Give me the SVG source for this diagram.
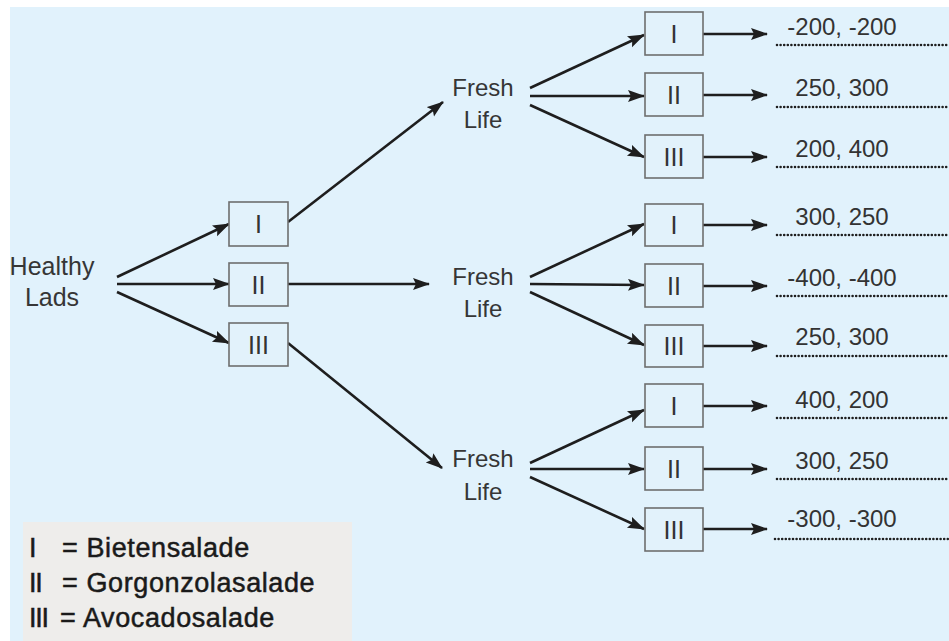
<svg xmlns="http://www.w3.org/2000/svg" width="949" height="641" viewBox="0 0 949 641">
<style>
  .t { font-family: "Liberation Sans", Arial, sans-serif; font-size: 24px; fill: #363636; }
  .big { font-size: 25px; }
  .num { font-family: "Liberation Sans", Arial, sans-serif; font-size: 24px; fill: #333; text-anchor: middle; }
  .box { fill: #e2f2fb; stroke: #6e6e6e; stroke-width: 1.6; }
  .lbl { font-family: "Liberation Sans", Arial, sans-serif; font-size: 25px; fill: #333; text-anchor: middle; }
  .edge { stroke: #1e1e1e; stroke-width: 2.6; fill: none; marker-end: url(#ah); }
  .dot { stroke: #1e1e1e; stroke-width: 2.6; stroke-linecap: round; stroke-dasharray: 0 3.6; fill: none; }
  .leg { font-family: "Liberation Sans", Arial, sans-serif; font-size: 27px; fill: #1a1a1a; stroke: #1a1a1a; stroke-width: 0.5px; letter-spacing: 0.6px; }
  .roman { letter-spacing: -1.2px; }
</style>
<defs>
  <marker id="ah" markerUnits="userSpaceOnUse" markerWidth="18" markerHeight="14" refX="16" refY="6" orient="auto">
    <path d="M0,0 L17,6 L0,12 L3,6 z" fill="#1e1e1e"/>
  </marker>
</defs>
<rect x="0" y="0" width="949" height="641" fill="#ffffff"/>
<rect x="10" y="7" width="939" height="634" fill="#e1f2fc"/>
<rect x="23" y="522" width="329" height="119" fill="#eeedeb"/>

<g id="connectors">
  <line class="edge" x1="117" y1="277" x2="229" y2="224"/>
  <line class="edge" x1="117" y1="284" x2="229" y2="284"/>
  <line class="edge" x1="117" y1="292" x2="229" y2="343"/>

  <line class="edge" x1="288" y1="222" x2="443" y2="102"/>
  <line class="edge" x1="288" y1="284" x2="429" y2="284"/>
  <line class="edge" x1="288" y1="343" x2="442" y2="468"/>

  <line class="edge" x1="530" y1="88" x2="644" y2="35"/>
  <line class="edge" x1="530" y1="96" x2="644" y2="96"/>
  <line class="edge" x1="530" y1="105" x2="644" y2="157"/>

  <line class="edge" x1="530" y1="277" x2="644" y2="224"/>
  <line class="edge" x1="530" y1="284" x2="644" y2="285"/>
  <line class="edge" x1="530" y1="292" x2="644" y2="345"/>

  <line class="edge" x1="530" y1="463" x2="644" y2="410"/>
  <line class="edge" x1="530" y1="469" x2="644" y2="469"/>
  <line class="edge" x1="530" y1="477" x2="644" y2="529"/>

  <line class="edge" x1="703" y1="34" x2="767" y2="34"/>
  <line class="edge" x1="703" y1="95" x2="767" y2="95"/>
  <line class="edge" x1="703" y1="157" x2="767" y2="157"/>
  <line class="edge" x1="703" y1="225" x2="767" y2="225"/>
  <line class="edge" x1="703" y1="286" x2="767" y2="286"/>
  <line class="edge" x1="703" y1="346" x2="767" y2="346"/>
  <line class="edge" x1="703" y1="406" x2="767" y2="406"/>
  <line class="edge" x1="703" y1="469" x2="767" y2="469"/>
  <line class="edge" x1="703" y1="529" x2="767" y2="529"/>

  <line class="dot" x1="777" y1="45" x2="949" y2="45"/>
  <line class="dot" x1="777" y1="107" x2="949" y2="107"/>
  <line class="dot" x1="777" y1="167" x2="949" y2="167"/>
  <line class="dot" x1="777" y1="235" x2="949" y2="235"/>
  <line class="dot" x1="777" y1="296" x2="949" y2="296"/>
  <line class="dot" x1="777" y1="356" x2="949" y2="356"/>
  <line class="dot" x1="777" y1="418" x2="949" y2="418"/>
  <line class="dot" x1="777" y1="479" x2="949" y2="479"/>
  <line class="dot" x1="775" y1="539" x2="949" y2="539"/>
</g>

<g id="root">
  <text class="t big" x="52" y="275" text-anchor="middle">Healthy</text>
  <text class="t big" x="52" y="306" text-anchor="middle">Lads</text>
</g>

<g id="a1"><rect class="box" x="229" y="202" width="59" height="44"/><text class="lbl" x="258.5" y="233">I</text></g>
<g id="a2"><rect class="box" x="229" y="263" width="59" height="43"/><text class="lbl" x="258.5" y="294">II</text></g>
<g id="a3"><rect class="box" x="229" y="323" width="59" height="43"/><text class="lbl" x="258.5" y="354">III</text></g>

<g id="fresh1"><text class="t" x="483" y="96" text-anchor="middle">Fresh</text><text class="t" x="483" y="128" text-anchor="middle">Life</text></g>
<g id="fresh2"><text class="t" x="483" y="285" text-anchor="middle">Fresh</text><text class="t" x="483" y="317" text-anchor="middle">Life</text></g>
<g id="fresh3"><text class="t" x="483" y="467" text-anchor="middle">Fresh</text><text class="t" x="483" y="500" text-anchor="middle">Life</text></g>

<g id="b11"><rect class="box" x="645" y="12" width="58" height="43"/><text class="lbl" x="674" y="43">I</text></g>
<g id="b12"><rect class="box" x="645" y="73" width="58" height="43"/><text class="lbl" x="674" y="104">II</text></g>
<g id="b13"><rect class="box" x="645" y="135" width="58" height="43"/><text class="lbl" x="674" y="166">III</text></g>
<g id="b21"><rect class="box" x="645" y="204" width="58" height="42"/><text class="lbl" x="674" y="234">I</text></g>
<g id="b22"><rect class="box" x="645" y="264" width="58" height="43"/><text class="lbl" x="674" y="295">II</text></g>
<g id="b23"><rect class="box" x="645" y="325" width="58" height="42"/><text class="lbl" x="674" y="355">III</text></g>
<g id="b31"><rect class="box" x="645" y="384" width="58" height="43"/><text class="lbl" x="674" y="415">I</text></g>
<g id="b32"><rect class="box" x="645" y="447" width="58" height="43"/><text class="lbl" x="674" y="478">II</text></g>
<g id="b33"><rect class="box" x="645" y="508" width="58" height="43"/><text class="lbl" x="674" y="539">III</text></g>

<g id="v1"><text class="num" x="842" y="35">-200, -200</text></g>
<g id="v2"><text class="num" x="842" y="96">250, 300</text></g>
<g id="v3"><text class="num" x="842" y="157">200, 400</text></g>
<g id="v4"><text class="num" x="842" y="225">300, 250</text></g>
<g id="v5"><text class="num" x="842" y="286">-400, -400</text></g>
<g id="v6"><text class="num" x="842" y="345">250, 300</text></g>
<g id="v7"><text class="num" x="842" y="408">400, 200</text></g>
<g id="v8"><text class="num" x="842" y="469">300, 250</text></g>
<g id="v9"><text class="num" x="842" y="527">-300, -300</text></g>

<g id="legend">
  <text class="leg" x="29" y="557">I</text><text class="leg" x="62" y="557">= Bietensalade</text>
  <text class="leg roman" x="29" y="592">II</text><text class="leg" x="62" y="592">= Gorgonzolasalade</text>
  <text class="leg roman" x="29" y="627">III</text><text class="leg" x="60" y="627">= Avocadosalade</text>
</g>
</svg>
